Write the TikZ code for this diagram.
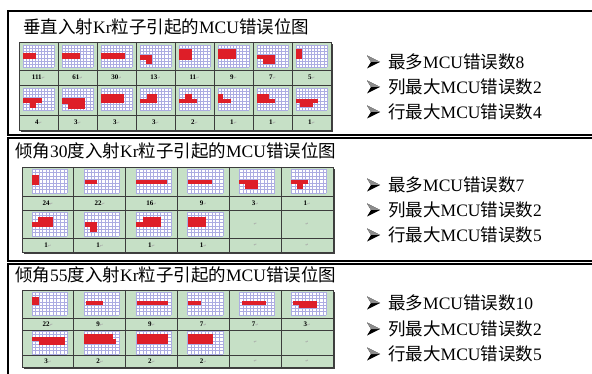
\documentclass[tikz,border=0pt]{standalone}
\usepackage{fontspec}
\setmainfont{Liberation Serif}
\newfontfamily\cjk{Noto Sans CJK SC}
\newfontfamily\symf{DejaVu Sans}
\definecolor{tgreen}{RGB}{198,224,198}
\definecolor{tline}{RGB}{60,60,60}
\definecolor{gridc}{RGB}{172,172,226}
\definecolor{redc}{RGB}{222,30,40}
\tikzset{
  tl/.style={draw=tline,line width=0.7pt},
  panel/.style={draw=black,line width=1.8pt,fill=white},
  ttl/.style={anchor=west,inner sep=0pt,font=\fontsize{17.5}{20}\selectfont},
  itm/.style={anchor=west,inner sep=0pt,font=\fontsize{17.5}{20}\selectfont},
  lbl/.style={inner sep=0pt,font=\fontsize{7}{7}\selectfont\bfseries},
}
\newcommand{\rt}{{\symf\color{black!35}\fontsize{4}{4}\selectfont ↵}}
\newcommand{\mimg}[5]{%
 \begin{scope}[shift={(#1,#2)},x=#3pt,y=-#4pt]
  \fill[white] (0,0) rectangle (8,6);
  \foreach \k in {0,...,10} \draw[gridc,line width=0.35pt] ({\k*0.8},0) -- ({\k*0.8},6);
  \foreach \k in {0,...,7} \draw[gridc,line width=0.35pt] (0,{\k*6/7}) -- (8,{\k*6/7});
  \foreach \a/\b/\c/\d in {#5}{\fill[redc] (\a,\b) rectangle (\c,\d);}
 \end{scope}}
\newcommand{\arrowb}[2]{%
 \begin{scope}[shift={(#1,#2)}]
  \fill[black] (0,-6.5) -- (13,0) -- (0,6.5) -- (4,0) -- cycle;
  \fill[black!45] (0,-6.5) -- (13,0) -- (4,0) -- cycle;
 \end{scope}}
\begin{document}
\begin{tikzpicture}[x=1pt,y=-1pt]
\useasboundingbox (0,0) rectangle (592,374);
\clip (0,0) rectangle (592,374);
\fill[white] (0,0) rectangle (592,374);
% panels
\draw[panel] (8,11) rectangle (610,135);
\draw[panel] (8,138) rectangle (610,261);
\draw[panel] (8,264) rectangle (610,390);
% titles
\node[ttl] (t1) at (23,27) {{\cjk 垂直入射}Kr{\cjk 粒子引起的}MCU{\cjk 错误位图}};
\node[ttl] (t2) at (15,151) {{\cjk 倾角}30{\cjk 度入射}Kr{\cjk 粒子引起的}MCU{\cjk 错误位图}};
\node[ttl] (t3) at (15,275) {{\cjk 倾角}55{\cjk 度入射}Kr{\cjk 粒子引起的}MCU{\cjk 错误位图}};
% ---------- table 1
\draw[line width=1.6pt,black!75] (21,131) -- (332.5,131) -- (332.5,44);
\fill[tgreen] (19,42) rectangle (331,130);
\draw[tl] (19,42) rectangle (331,130);
\foreach \yy in {70,85,115} \draw[tl] (19,\yy) -- (331,\yy);
\foreach \i in {1,...,7} \draw[tl] ({19+\i*39},42) -- ({19+\i*39},130);
\mimg{23}{45}{3.85}{3.7}{0/2.2/3.5/3.8}
\mimg{62}{45}{3.85}{3.7}{0/2.2/4.7/3.8}
\mimg{101}{45}{3.85}{3.7}{0/2.2/6.3/3.8}
\mimg{140}{45}{3.85}{3.7}{0/2.7/3.1/4.1, 1.5/4.1/3.1/5.2}
\mimg{179}{45}{3.85}{3.7}{0/1/3.3/4}
\mimg{218}{45}{3.85}{3.7}{0/1/4.7/3.9}
\mimg{257}{45}{3.85}{3.7}{0/2.7/4.6/3.8, 1.5/3.8/4.6/5.2}
\mimg{296}{45}{3.85}{3.7}{0/1/1.5/3.8}
\mimg{23}{88}{3.85}{3.7}{0/2.7/5/4.1, 1.8/4.1/3.3/5.5}
\mimg{62}{88}{3.85}{3.7}{0/2.7/6/4.3, 1.5/4.3/6/5.6}
\mimg{101}{88}{3.85}{3.7}{0/1.6/6/4.1}
\mimg{140}{88}{3.85}{3.7}{1.8/1.6/4.4/3, 0/3/4.4/4.1}
\mimg{179}{88}{3.85}{3.7}{1.5/1.6/3.3/3, 0/3/4.6/4.1}
\mimg{218}{88}{3.85}{3.7}{0/1.6/1.2/3, 0/3/3.3/4.1}
\mimg{257}{88}{3.85}{3.7}{0/1.6/3/3, 0/3/4.6/4.1}
\mimg{296}{88}{3.85}{3.7}{0/3/5.8/4.1, 1/4.1/4.4/5.2}
\foreach \v [count=\i from 0] in {111,61,30,13,11,9,7,5}
  \node[lbl] (a\i) at ({38.5+\i*39},77.5) {\v\rt};
\foreach \v [count=\i from 0] in {4,3,3,3,2,1,1,1}
  \node[lbl] (b\i) at ({38.5+\i*39},122.5) {\v\rt};
% ---------- table 2
\draw[line width=1.6pt,black!75] (24,253) -- (334.5,253) -- (334.5,169);
\fill[tgreen] (22,167) rectangle (333,252);
\draw[tl] (22,167) rectangle (333,252);
\foreach \yy in {196,210,238} \draw[tl] (22,\yy) -- (333,\yy);
\foreach \i in {1,...,5} \draw[tl] ({22+\i*51.83},167) -- ({22+\i*51.83},252);
\mimg{32}{169}{4.4}{4}{0/1.5/1.7/4}
\mimg{83.8}{169}{4.4}{4}{0.3/2.7/3/3.8}
\mimg{135.7}{169}{4.4}{4}{0/2.7/7/3.8}
\mimg{187.5}{169}{4.4}{4}{0/2.7/5.6/3.8}
\mimg{239.3}{169}{4.4}{4}{0/2.7/4.2/3.8, 1.4/3.8/4.2/5}
\mimg{291.2}{169}{4.4}{4}{0/2.7/3.9/3.8, 1.4/3.8/2.7/5}
\mimg{32}{212}{4.4}{4}{1.4/1.2/4.8/2.5, 0/2.5/4.8/3.8}
\mimg{83.8}{212}{4.4}{4}{0.3/2.5/3/3.8, 1.4/3.8/3/5}
\mimg{135.7}{212}{4.4}{4}{1.6/1.2/5.8/2.5, 0/2.5/5.8/3.8}
\mimg{187.5}{212}{4.4}{4}{0/1.2/4.3/3.8}
\foreach \v [count=\i from 0] in {24,22,16,9,3,1}
  \node[lbl] (c\i) at ({47.9+\i*51.83},203) {\v\rt};
\foreach \v [count=\i from 0] in {1,1,1,1}
  \node[lbl] (d\i) at ({47.9+\i*51.83},245) {\v\rt};
\node[lbl] (d4) at ({47.9+4*51.83},245) {\rt};
\node[lbl] (d5) at ({47.9+5*51.83},245) {\rt};
\node[lbl] (e4) at ({47.9+4*51.83},224) {\rt};
\node[lbl] (e5) at ({47.9+5*51.83},224) {\rt};
% ---------- table 3
\draw[line width=1.6pt,black!75] (24,368) -- (334.5,368) -- (334.5,292);
\fill[tgreen] (22,290) rectangle (333,367);
\draw[tl] (22,290) rectangle (333,367);
\foreach \yy in {318,330,355} \draw[tl] (22,\yy) -- (333,\yy);
\foreach \i in {1,...,5} \draw[tl] ({22+\i*51.83},290) -- ({22+\i*51.83},367);
\mimg{32}{292}{4.4}{3.8}{0/1.2/1.5/3.3}
\mimg{83.8}{292}{4.4}{3.8}{0.4/2.4/4.3/3.4}
\mimg{135.7}{292}{4.4}{3.8}{0.3/2.4/7.4/3.4}
\mimg{187.5}{292}{4.4}{3.8}{0/2.4/3.1/3.4}
\mimg{239.3}{292}{4.4}{3.8}{0.6/2.4/6/3.4}
\mimg{291.2}{292}{4.4}{3.8}{0.4/2.4/5.9/3.4, 1.8/3.4/5.9/4.3}
\mimg{32}{331}{4.4}{3.8}{0/1.5/7.5/2.5, 1.6/2.5/7.5/3.8}
\mimg{83.8}{331}{4.4}{3.8}{0/0.8/6.6/2, 0/2/7.3/3.3}
\mimg{135.7}{331}{4.4}{3.8}{0.3/0.8/7.4/3.3}
\mimg{187.5}{331}{4.4}{3.8}{0/0.8/5.8/3.3}
\foreach \v [count=\i from 0] in {22,9,9,7,7,3}
  \node[lbl] (f\i) at ({47.9+\i*51.83},324) {\v\rt};
\foreach \v [count=\i from 0] in {3,2,2,2}
  \node[lbl] (g\i) at ({47.9+\i*51.83},361) {\v\rt};
\node[lbl] (g4) at ({47.9+4*51.83},361) {\rt};
\node[lbl] (g5) at ({47.9+5*51.83},361) {\rt};
\node[lbl] (h4) at ({47.9+4*51.83},342) {\rt};
\node[lbl] (h5) at ({47.9+5*51.83},342) {\rt};
% ---------- bullet lists
\arrowb{367}{62}  \node[itm] (p11) at (388,62) {{\cjk 最多}MCU{\cjk 错误数}8};
\arrowb{367}{87}  \node[itm] (p12) at (388,87) {{\cjk 列最大}MCU{\cjk 错误数}2};
\arrowb{367}{112} \node[itm] (p13) at (388,112) {{\cjk 行最大}MCU{\cjk 错误数}4};
\arrowb{367}{185} \node[itm] (p21) at (388,185) {{\cjk 最多}MCU{\cjk 错误数}7};
\arrowb{367}{210} \node[itm] (p22) at (388,210) {{\cjk 列最大}MCU{\cjk 错误数}2};
\arrowb{367}{235} \node[itm] (p23) at (388,235) {{\cjk 行最大}MCU{\cjk 错误数}5};
\arrowb{367}{303} \node[itm] (p31) at (388,303) {{\cjk 最多}MCU{\cjk 错误数}10};
\arrowb{367}{329} \node[itm] (p32) at (388,329) {{\cjk 列最大}MCU{\cjk 错误数}2};
\arrowb{367}{354} \node[itm] (p33) at (388,354) {{\cjk 行最大}MCU{\cjk 错误数}5};
\end{tikzpicture}
\end{document}
